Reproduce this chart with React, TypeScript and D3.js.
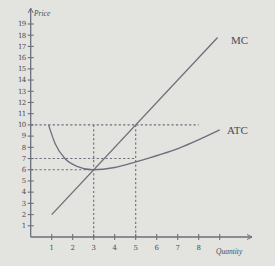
import React from "react";
import * as d3 from "d3";

const yTicks = [1,2,3,4,5,6,7,8,9,10,11,12,13,14,15,16,17,18,19];
const xTicks = [1,2,3,4,5,6,7,8,9];
const xTickLabels = ["1","2","3","4","5","6","7","8",""];
const mcQ = [1, 8.9];
const mcP = [2, 17.8];
const atcQ = [0.85, 1.16, 1.63, 2.2, 2.95, 4, 5, 7.1, 9];
const atcP = [10, 8.35, 7, 6.3, 6, 6.2, 6.7, 7.95, 9.55];
// dashed guides: [q1,p1,q2,p2]
const guideQ1 = [0, 0, 0, 3, 5];
const guideP1 = [10, 7, 6, 10, 10];
const guideQ2 = [8, 5, 3, 3, 5];
const guideP2 = [10, 7, 6, 0, 0];

export default function App() {
  const W = 275, H = 266;
  const x = d3.scaleLinear().domain([0, 10]).range([30.7, 240.7]);
  const y = d3.scaleLinear().domain([0, 19]).range([237, 24]);
  const line = d3.line<[number, number]>().x(d => x(d[0])).y(d => y(d[1]));
  const atcLine = d3.line<[number, number]>().x(d => x(d[0])).y(d => y(d[1])).curve(d3.curveMonotoneX);
  const stroke = "#6b6f7c";
  const textC = "#4a4c55";
  return (
    <svg width={W} height={H} style={{ position: "absolute", left: 0, top: 0, background: "#e3e3df" }}>
      <rect width={W} height={H} fill="#e3e3df" />
      {/* guides */}
      {guideQ1.map((q, i) => (
        <line key={"g" + i} x1={x(q)} y1={y(guideP1[i])} x2={x(guideQ2[i])} y2={y(guideP2[i])}
          stroke={stroke} strokeWidth={1.1} strokeDasharray="2.2,2.2" />
      ))}
      {/* axes */}
      <line x1={x(0)} y1={y(0)} x2={252} y2={y(0)} stroke={stroke} strokeWidth={1.3} />
      <line x1={x(0)} y1={y(0)} x2={x(0)} y2={9} stroke={stroke} strokeWidth={1.3} />
      <path d={`M${x(0) - 2.5},${13} L${x(0)},${8} L${x(0) + 2.5},${13}`} fill="none" stroke={stroke} strokeWidth={1} />
      <path d={`M${247},${y(0) - 2.5} L${252},${y(0)} L${247},${y(0) + 2.5}`} fill="none" stroke={stroke} strokeWidth={1} />
      {yTicks.map(t => (
        <g key={"y" + t}>
          <line x1={x(0) - 3} x2={x(0) + 3} y1={y(t)} y2={y(t)} stroke={stroke} strokeWidth={1.1} />
          <text x={x(0) - 5} y={y(t)} dy="0.33em" textAnchor="end" fontFamily="DejaVu Serif, serif" fontSize={7} fill={textC} letterSpacing={-0.6}>{t}</text>
        </g>
      ))}
      {xTicks.map((t, i) => (
        <g key={"x" + t}>
          <line x1={x(t)} x2={x(t)} y1={y(0) - 3} y2={y(0) + 3} stroke={stroke} strokeWidth={1.1} />
          <text x={x(t)} y={y(0) + 13} textAnchor="middle" fontFamily="DejaVu Serif, serif" fontSize={7} fill={textC}>{xTickLabels[i]}</text>
        </g>
      ))}
      <text x={34} y={16} fontFamily="Liberation Serif, serif" fontStyle="italic" fontSize={7.5} fill={textC}>Price</text>
      <text x={216} y={254} fontFamily="Liberation Serif, serif" fontStyle="italic" fontSize={7.5} fill={textC}>Quantity</text>
      {/* curves */}
      <path d={line(mcQ.map((q, i) => [q, mcP[i]]) as [number, number][]) || ""} fill="none" stroke={stroke} strokeWidth={1.3} />
      <path d={atcLine(atcQ.map((q, i) => [q, atcP[i]]) as [number, number][]) || ""} fill="none" stroke={stroke} strokeWidth={1.3} />
      <text x={231} y={44} fontFamily="Liberation Serif, serif" fontSize={11} fill={textC}>MC</text>
      <text x={227} y={134} fontFamily="Liberation Serif, serif" fontSize={11} fill={textC}>ATC</text>
    </svg>
  );
}
